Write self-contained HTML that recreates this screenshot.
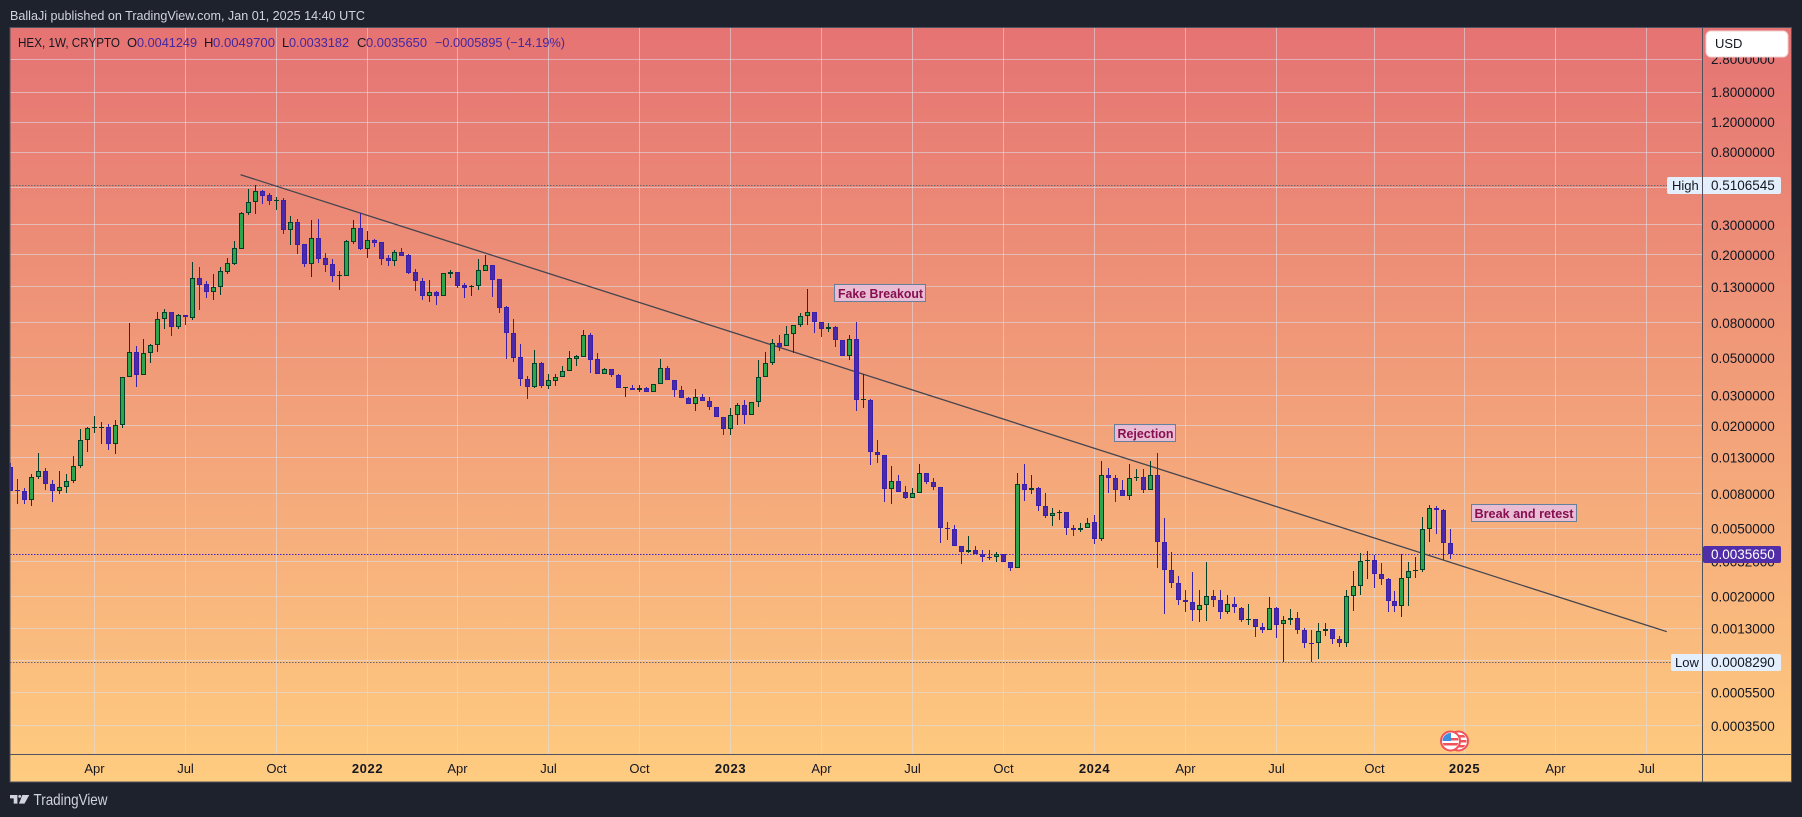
<!DOCTYPE html>
<html lang="en">
<head>
<meta charset="utf-8">
<title>HEX 1W chart</title>
<style>
html,body{margin:0;padding:0;background:#1e222d;width:1802px;height:817px;overflow:hidden}
svg{display:block;font-family:"Liberation Sans",sans-serif}
text{white-space:pre}
</style>
</head>
<body>
<svg id="chart" width="1802" height="817" viewBox="0 0 1802 817" xmlns="http://www.w3.org/2000/svg">
<defs>
<linearGradient id="bgGrad" x1="0" y1="0" x2="0" y2="1">
<stop offset="0" stop-color="#e57373"/>
<stop offset="1" stop-color="#ffcc80"/>
</linearGradient>
<clipPath id="plotClip"><rect x="10" y="28" width="1692" height="726"/></clipPath>
<clipPath id="flagClipA"><circle cx="1450.5" cy="741" r="8"/></clipPath>
<clipPath id="flagClipB"><circle cx="1458.5" cy="741" r="8"/></clipPath>
</defs>
<rect x="0" y="0" width="1802" height="817" fill="#1e222d"/>
<text x="10" y="20" font-size="13" fill="#d1d4dc" textLength="355" lengthAdjust="spacingAndGlyphs">BallaJi published on TradingView.com, Jan 01, 2025 14:40 UTC</text>
<rect x="10" y="27" width="1781.5" height="755" fill="url(#bgGrad)"/>
<g id="gridLayer"></g>
<g id="refLayer"></g>
<line id="trendline" stroke="#45454f" stroke-width="1.3"/>
<g id="candleLayer" clip-path="url(#plotClip)"></g>
<g>
<rect x="834.5" y="284.5" width="91" height="17" fill="#e8bcd3" stroke="#64809c"/>
<text x="838" y="298" font-size="12.5" font-weight="bold" fill="#880e4f" textLength="85" lengthAdjust="spacingAndGlyphs">Fake Breakout</text>
</g>
<g>
<rect x="1114.5" y="424.5" width="61" height="17" fill="#e8bcd3" stroke="#64809c"/>
<text x="1117.5" y="438" font-size="12.5" font-weight="bold" fill="#880e4f" textLength="56" lengthAdjust="spacingAndGlyphs">Rejection</text>
</g>
<g>
<rect x="1471.5" y="504.5" width="105" height="17" fill="#e8bcd3" stroke="#64809c"/>
<text x="1474.5" y="518" font-size="12.5" font-weight="bold" fill="#880e4f" textLength="99" lengthAdjust="spacingAndGlyphs">Break and retest</text>
</g>
<g font-size="13">
<text x="18" y="47" fill="#131722" textLength="102" lengthAdjust="spacingAndGlyphs">HEX, 1W, CRYPTO</text>
<text x="127" y="47" fill="#131722">O</text>
<text x="137" y="47" fill="#4527a0" textLength="60" lengthAdjust="spacingAndGlyphs">0.0041249</text>
<text x="204" y="47" fill="#131722">H</text>
<text x="213" y="47" fill="#4527a0" textLength="62" lengthAdjust="spacingAndGlyphs">0.0049700</text>
<text x="282" y="47" fill="#131722">L</text>
<text x="289" y="47" fill="#4527a0" textLength="60" lengthAdjust="spacingAndGlyphs">0.0033182</text>
<text x="357" y="47" fill="#131722">C</text>
<text x="366" y="47" fill="#4527a0" textLength="61" lengthAdjust="spacingAndGlyphs">0.0035650</text>
<text x="435" y="47" fill="#4527a0" textLength="130" lengthAdjust="spacingAndGlyphs">−0.0005895 (−14.19%)</text>
</g>
<g>
<circle cx="1458.5" cy="741" r="9.5" fill="#fff" stroke="#f0525a" stroke-width="2"/>
<g clip-path="url(#flagClipB)"><rect x="1450" y="735" width="17" height="2.5" fill="#f0525a"/><rect x="1450" y="740" width="17" height="2.5" fill="#f0525a"/><rect x="1450" y="745" width="17" height="2.5" fill="#f0525a"/></g>
<circle cx="1450.5" cy="741" r="9.5" fill="#fff" stroke="#f0525a" stroke-width="2"/>
<g clip-path="url(#flagClipA)"><rect x="1442" y="738" width="17" height="2.5" fill="#f0525a"/><rect x="1442" y="743" width="17" height="2.5" fill="#f0525a"/><rect x="1442" y="733" width="9" height="8" fill="#3f8fe0"/></g>
</g>
<g id="axisLabels"></g>
<g>
<rect x="1667" y="177" width="114" height="17" rx="2" fill="#e3effd"/>
<text x="1672" y="190" font-size="13" fill="#131722">High</text>
<text x="1711" y="190" font-size="13.5" fill="#131722">0.5106545</text>
</g>
<g>
<rect x="1671" y="654" width="110" height="17" rx="2" fill="#e3effd"/>
<text x="1675" y="667" font-size="13" fill="#131722">Low</text>
<text x="1711" y="667" font-size="13.5" fill="#131722">0.0008290</text>
</g>
<line x1="1702.5" y1="27" x2="1702.5" y2="782" stroke="#50535e" stroke-width="1"/>
<line x1="10" y1="754.5" x2="1791" y2="754.5" stroke="#50535e" stroke-width="1"/>
<g>
<rect x="1703" y="546" width="78" height="17" rx="2" fill="#512da8"/>
<text x="1711" y="559" font-size="13.5" fill="#ffffff">0.0035650</text>
</g>
<g>
<rect x="1706" y="31" width="82" height="26" rx="5" fill="#ffffff" stroke="#f3d0d0"/>
<text x="1715" y="48" font-size="13" fill="#131722">USD</text>
</g>
<rect x="10" y="27.5" width="1781.5" height="754.5" fill="none" stroke="#50535e" stroke-width="1"/>
<g>
<path d="M10 795h7.4v8.6h-3.7v-5.2h-3.7z M22.3 795h7l-4.8 8.6h-5.5z" fill="#d1d4dc"/>
<circle cx="19.7" cy="796.4" r="1.4" fill="#d1d4dc"/>
<text x="33.5" y="805" font-size="16" fill="#d1d4dc" textLength="74" lengthAdjust="spacingAndGlyphs">TradingView</text>
</g>
</svg>
<script>
const opens = [
.01147,.00842,.00831,.00736,.01001,.01085,.00912,.00831,.00876,.0095,
.01162,.0165,.0194,.0196,.0197,.0156,.0202,.0386,.0541,.0396,
.0534,.0595,.0844,.0928,.0758,.0891,.0856,.1467,.1353,.1215,
.13,.159,.1771,.2168,.3523,.4085,.4739,.449,.4141,.4197,
.2801,.312,.2319,.1771,.2515,.192,.1771,.1507,.1507,.2383,
.2877,.2168,.2448,.2383,.192,.1844,.2082,.2,.159,.1409,
.1151,.1215,.1151,.1548,.159,.1335,.13,.1317,.1612,.1747,
.1447,.0992,.0699,.0506,.0376,.0338,.0467,.0342,.0366,.0386,
.0418,.0493,.0506,.0681,.0493,.0402,.043,.0396,.0333,.0333,
.0324,.0333,.0315,.0352,.0436,.0371,.0324,.0291,.0268,.0295,
.0279,.0258,.0226,.0191,.0232,.0265,.0232,.0275,.0386,.0467,
.0611,.0587,.069,.0779,.0879,.0928,.0811,.0738,.0758,.0636,
.0513,.0645,.0283,.0283,.014,.0135,.00853,.0095,.0082,.00756,
.00809,.01056,.00937,.00876,.00505,.00498,.00396,.00365,.00375,.00355,
.00341,.00341,.00355,.00319,.00294,.00912,.00842,.00865,.00679,.00593,
.00618,.00626,.00505,.00491,.00505,.00547,.00435,.01028,.00988,.00842,
.00777,.00988,.01001,.00842,.01028,.00418,.00286,.0024,.00191,.00186,
.00167,.00179,.00202,.00191,.00163,.00181,.00171,.00146,.00148,.00133,
.00128,.00171,.00138,.00146,.0015,.00128,.00107,.00107,.00126,.00129,
.00113,.00107,.00202,.00231,.00324,.00328,.00271,.00253,.00188,.00176,
.00257,.00282,.00286,.00498,.00661,.00643,.0041249
];
const highs = [
.0121,.00974,.00865,.01042,.0138,.01131,.00963,.01085,.01042,.0133,
.0191,.0197,.0229,.021,.0205,.0216,.0386,.08,.0587,.0645,
.0603,.0928,.0966,.0928,.0903,.0891,.1819,.1701,.1409,.1548,
.1701,.192,.2415,.357,.4868,.5107,.4803,.4613,.4371,.4312,
.3383,.3249,.2319,.3205,.3249,.2054,.1895,.1612,.2448,.3205,
.3523,.2763,.2481,.2383,.2,.2139,.2198,.2027,.1656,.1467,
.1428,.1231,.1569,.1634,.159,.1371,.1335,.1895,.2,.1747,
.1447,.1005,.0844,.0603,.0391,.0556,.0473,.0402,.0402,.0448,
.0549,.052,.0728,.0699,.0534,.0436,.043,.0402,.0338,.0347,
.0347,.0338,.0352,.0493,.0448,.0371,.0342,.0295,.0329,.0307,
.0295,.0258,.0226,.0254,.0272,.0283,.0275,.0486,.0541,.0645,
.0681,.0768,.0779,.0915,.1265,.0928,.0811,.08,.0768,.0636,
.0681,.0811,.0402,.0287,.0165,.0135,.01162,.01028,.00888,.00865,
.01194,.01056,.00988,.00876,.00547,.00525,.00396,.00453,.00396,.00375,
.00375,.00365,.00355,.00319,.01056,.01194,.01028,.00876,.00809,.00661,
.00643,.00626,.00525,.0054,.00577,.00601,.01243,.01131,.01028,.00963,
.01194,.01116,.01116,.01243,.0138,.00577,.00365,.00264,.00219,.00278,
.00219,.00319,.00219,.00219,.00205,.00199,.00174,.00181,.00148,.0014,
.00199,.00174,.00154,.00169,.00163,.00131,.00128,.0014,.0014,.00129,
.00118,.00219,.00282,.0036,.0037,.00351,.00315,.00257,.00216,.00355,
.00319,.00341,.00585,.00688,.00679,.00652,.00497
];
const lows = [
.00831,.00697,.00697,.00679,.00974,.00842,.00716,.00798,.00809,.00925,
.01131,.014,.0182,.0156,.0144,.0136,.0194,.0386,.0338,.0396,
.0467,.0541,.0738,.0671,.0738,.0779,.0833,.0953,.112,.109,
.1167,.1548,.1747,.2168,.3429,.3475,.3977,.3923,.3668,.2654,
.2288,.2027,.1701,.1487,.1795,.159,.139,.1248,.1507,.2319,
.2139,.192,.2228,.1747,.1724,.1724,.1973,.1548,.1231,.109,
.1061,.1019,.1151,.1467,.1282,.112,.1151,.1248,.1612,.1136,
.0915,.0493,.0473,.0342,.0287,.0333,.0333,.0329,.0342,.0386,
.0418,.0448,.0506,.0407,.0402,.0402,.0386,.0333,.0295,.0324,
.0315,.0315,.0315,.0352,.0371,.0295,.0291,.0268,.0245,.0279,
.0248,.0226,.0177,.0177,.0202,.0205,.0232,.0258,.0386,.0454,
.0549,.0587,.0534,.0758,.0779,.0699,.0662,.0709,.0579,.0513,
.0486,.0245,.0254,.01178,.0121,.00716,.00697,.0082,.00746,.00756,
.00809,.00912,.00842,.00412,.00429,.00396,.00311,.0036,.00355,.00319,
.00328,.00319,.00319,.00282,.00294,.00726,.00798,.00634,.00577,.00518,
.00562,.00459,.00453,.00478,.00505,.00406,.00423,.00809,.00716,.00777,
.00736,.0095,.00809,.00842,.00294,.00158,.00224,.00179,.00163,.00144,
.00142,.00144,.00174,.00148,.00158,.0016,.00142,.00136,.00116,.00123,
.00128,.00115,.00083,.00136,.0012,.001,.00083,.00086,.00118,.00105,
.00102,.00101,.00165,.00205,.00253,.00224,.00234,.00163,.00163,.00152,
.00176,.00257,.00278,.00418,.00465,.00328,.0033182
];
const closes = [
.00831,.00831,.00736,.01001,.01085,.00912,.00831,.00876,.0095,.01162,
.0165,.0194,.0197,.0197,.0156,.0202,.0386,.0541,.0396,.0534,
.0595,.0844,.0928,.0758,.0891,.0867,.1467,.1335,.1215,.13,
.1612,.1795,.2198,.3523,.4085,.4739,.443,.4141,.4197,.2801,
.312,.2288,.1771,.2515,.1895,.1747,.1507,.1527,.2415,.2877,
.2168,.2448,.2351,.1895,.1844,.2082,.1973,.1569,.1409,.1151,
.1215,.1151,.1569,.159,.1317,.1282,.1317,.1634,.1747,.1428,
.0979,.0699,.0499,.0376,.0338,.0467,.0342,.0371,.0386,.0418,
.0499,.0513,.0681,.0486,.0402,.043,.0396,.0333,.0338,.0324,
.0333,.0315,.0352,.0436,.0371,.0324,.0291,.0268,.0295,.0279,
.0258,.0226,.0191,.0232,.0265,.0232,.0275,.0386,.0467,.0611,
.0579,.069,.0779,.0879,.0928,.0811,.0738,.0758,.0636,.0513,
.0645,.0283,.0287,.014,.0135,.00853,.0095,.0082,.00756,.00809,
.01056,.00937,.00876,.00505,.00498,.00396,.00365,.00375,.00355,.00341,
.00337,.00355,.00319,.00294,.00912,.00842,.00865,.00679,.00593,.00618,
.00626,.00505,.00491,.00505,.0054,.00435,.01028,.00988,.00842,.00777,
.00988,.01001,.00842,.01028,.00418,.00286,.0024,.00191,.00186,.00167,
.00179,.00202,.00191,.00163,.00181,.00174,.00146,.00148,.00133,.00128,
.00171,.00136,.00146,.0015,.00128,.00107,.00105,.00126,.00129,.00113,
.00107,.00202,.00231,.00324,.00328,.00271,.00253,.00188,.00176,.00257,
.00282,.00286,.00498,.00661,.00643,.00412,.003565
];
const priceTicks = [2.8,1.8,1.2,0.8,0.5,0.3,0.2,0.13,0.08,0.05,0.03,0.02,0.013,0.008,0.005,0.0032,0.002,0.0013,0.00084,0.00055,0.00035];
const timeTickIndex = [12,25,38,51,64,77,90,103,116,129,142,155,168,181,195,208,221,234];
const timeTickLabels = ["Apr","Jul","Oct","2022","Apr","Jul","Oct","2023","Apr","Jul","Oct","2024","Apr","Jul","Oct","2025","Apr","Jul"];
const highPrice = 0.5106545;
const lowPrice = 0.000829;
const lastPrice = 0.003565;
const trendIndex = [32.92,236.87];
const trendPrice = [0.5903,0.001246];

const NS = "http://www.w3.org/2000/svg";
function xScale(i){ return 10.38 + 6.993 * i; }
function yScale(p){ return 92 + 170.8 * Math.log10(1.8 / p); }
function make(tag, attrs, parent){
  const el = document.createElementNS(NS, tag);
  for (const k in attrs) el.setAttribute(k, attrs[k]);
  parent.appendChild(el);
  return el;
}
const grid = document.getElementById("gridLayer");
const labels = document.getElementById("axisLabels");
const refs = document.getElementById("refLayer");
const candles = document.getElementById("candleLayer");

priceTicks.forEach(function(p){
  const y = Math.floor(yScale(p)) + 0.5;
  const g = make("line", {x1:10, x2:1702, y1:y, y2:y, stroke:"#dcdce6", "stroke-opacity":0.58, "stroke-width":1}, grid);
  
  
  const t = make("text", {x:1711, y:yScale(p)+5, "font-size":13.5, fill:"#131722"}, labels);
  t.textContent = p.toFixed(7);
  
  
});
timeTickIndex.forEach(function(idx, n){
  const x = Math.floor(xScale(idx)) + 0.5;
  const g = make("line", {x1:x, x2:x, y1:28, y2:754, stroke:"#dcdce6", "stroke-opacity":0.58, "stroke-width":1}, grid);
  
  
  const isYear = /^\d+$/.test(timeTickLabels[n]);
  const a = {x:x, y:773, "font-size":13, fill:"#131722", "text-anchor":"middle"};
  if (isYear) { a["font-weight"] = "bold"; a["letter-spacing"] = "0.6"; }
  const t = make("text", a, labels);
  t.textContent = timeTickLabels[n];
  
  
});

const highLine = make("line", {x1:10, x2:1667, y1:Math.round(yScale(highPrice))+0.5, y2:Math.round(yScale(highPrice))+0.5, stroke:"#6b6670", "stroke-width":1, "stroke-dasharray":"1.5 1.5"}, refs);


const lowLine = make("line", {x1:10, x2:1671, y1:Math.round(yScale(lowPrice))+0.5, y2:Math.round(yScale(lowPrice))+0.5, stroke:"#6b6670", "stroke-width":1, "stroke-dasharray":"1.5 1.5"}, refs);


const lastLine = make("line", {x1:10, x2:1702, y1:Math.round(yScale(lastPrice))+0.5, y2:Math.round(yScale(lastPrice))+0.5, stroke:"#4527c0", "stroke-width":1, "stroke-dasharray":"1.5 1.5"}, refs);



opens.forEach(function(o, i){
  const c = closes[i], up = c >= o;
  const px = Math.floor(xScale(i));
  const edge = up ? "#00402a" : "#3a20a8";
  const fill = up ? "#2fa44f" : "#4a2aa8";
  const top = Math.round(yScale(Math.max(o, c)));
  const bot = Math.round(yScale(Math.min(o, c)));
  const wt = Math.round(yScale(highs[i]));
  const wb = Math.round(yScale(lows[i]));
  const g = make("g", {}, candles);
  
  
  make("rect", {x:px, y:wt, width:1, height:Math.max(wb - wt, 1), fill:edge}, g);
  if (bot - top < 2) {
    make("rect", {x:px - 2, y:top, width:5, height:Math.max(bot - top, 1), fill:edge}, g);
  } else {
    make("rect", {x:px - 1.5, y:top + 0.5, width:4, height:bot - top - 1, fill:fill, stroke:edge, "stroke-width":1}, g);
  }
});

const tl = document.getElementById("trendline");
tl.setAttribute("x1", xScale(trendIndex[0]));
tl.setAttribute("y1", yScale(trendPrice[0]));
tl.setAttribute("x2", xScale(trendIndex[1]));
tl.setAttribute("y2", yScale(trendPrice[1]));
</script>
</body>
</html>
